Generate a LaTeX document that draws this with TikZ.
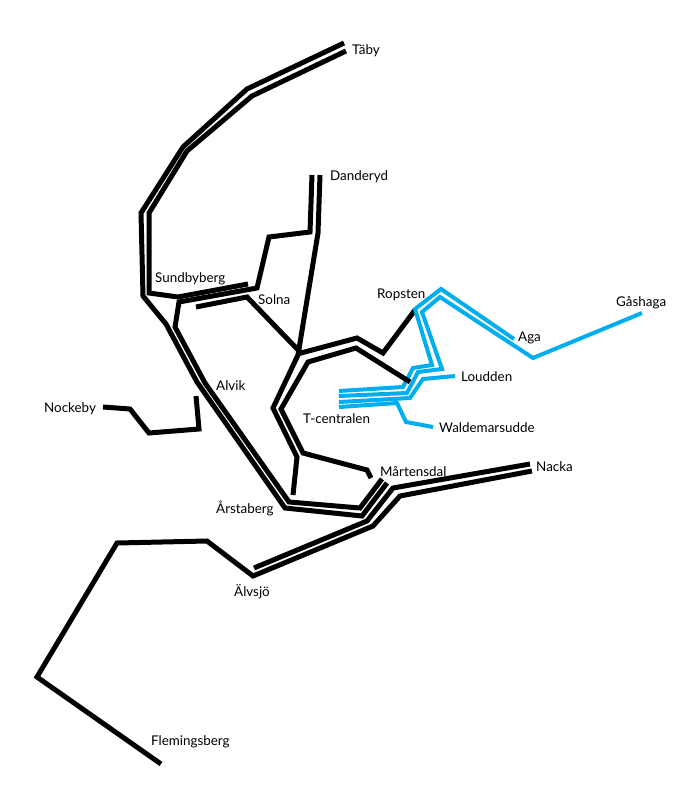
\documentclass[tikz,border=0pt]{standalone}
\usepackage{fontspec}
\setmainfont{Lato}
\definecolor{metroblue}{HTML}{00AEEF}
\tikzset{
  x=1pt,y=-1pt,
  blk/.style={draw=black,line width=5pt,line join=miter,miter limit=10},
  blu/.style={draw=metroblue,line width=4pt,line join=miter,miter limit=10},
  lab/.style={font=\fontsize{13.4pt}{15pt}\selectfont,inner sep=0pt,anchor=west,text=black}
}
\begin{document}
\begin{tikzpicture}
\useasboundingbox (0,0) rectangle (685,800);
% labels
\node[lab] (taby) at (352,50.5) {Täby};
\node[lab] (dand) at (330,177) {Danderyd};
\node[lab] (sund) at (155,279) {Sundbyberg};
\node[lab] (soln) at (258,300) {Solna};
\node[lab] (rops) at (377,295) {Ropsten};
\node[lab] (gash) at (616,303) {Gåshaga};
\node[lab] (aga) at (518,338) {Aga};
\node[lab] (loud) at (461,377) {Loudden};
\node[lab] (alvi) at (216,386) {Alvik};
\node[lab] (nock) at (44,409) {Nockeby};
\node[lab] (tcen) at (303,419) {T-centralen};
\node[lab] (wald) at (439,428) {Waldemarsudde};
\node[lab] (mart) at (380,472) {Mårtensdal};
\node[lab] (nack) at (536,467) {Nacka};
\node[lab] (arst) at (216,508) {Årstaberg};
\node[lab] (alvs) at (234,592) {Älvsjö};
\node[lab] (flem) at (151,742) {Flemingsberg};
% free ends
\coordinate (a0) at (344,43);
\coordinate (b0) at (346,51);
\coordinate (b1) at (312,175);
\coordinate (c0) at (320,175);
\coordinate (c1) at (293,495);
\coordinate (s0) at (248,284);
\coordinate (s1) at (382,479);
\coordinate (so0) at (196,307);
\coordinate (so1) at (415,310);
\coordinate (t1) at (410,382);
\coordinate (t2) at (371,478);
\coordinate (n0) at (103,407);
\coordinate (n1) at (196,396);
\coordinate (e0) at (254,568);
\coordinate (e1) at (530,464);
\coordinate (f0) at (532,471);
\coordinate (f1) at (161,764);
% black lines
\draw[blk] (a0) -- (247,89) -- (183,147) -- (141,213) -- (143,296) -- (166,324) -- (197,382) -- (285,508) -- (362,516) -- (387,483);
\draw[blk] (b0) -- (252,96) -- (187,151) -- (149,213) -- (149,293) -- (178,297) -- (s0);
\draw[blk] (b1) -- (310,232) -- (269,237) -- (257,288) -- (179,302) -- (175,327) -- (205,383) -- (289,502) -- (360,508) -- (s1);
\draw[blk] (c0) -- (318,233) -- (298,355) -- (273,408) -- (297,457) -- (c1);
\draw[blk] (so0) -- (247,297) -- (301,353) -- (357,338) -- (383,353) -- (so1);
\draw[blk] (n0) -- (130,409) -- (149,433) -- (199,429) -- (n1);
\draw[blk] (e0) -- (367,521) -- (393,488) -- (e1);
\draw[blk] (f0) -- (400,496) -- (373,526) -- (253,576) -- (207,541) -- (117,543) -- (37,677) -- (f1);
% blue lines
\draw[blu] (514,339) -- (441,289) -- (415,309) -- (432,365) -- (413,368) -- (403,387) -- (339,391);
\draw[blu] (642,313) -- (533,358) -- (440,297) -- (422,312) -- (442,369) -- (418,372) -- (407,393) -- (339,396);
\draw[blu] (455,376) -- (423,379) -- (410,398) -- (339,402);
\draw[blu] (433,427) -- (406,422) -- (397,403) -- (339,407);
% black line laid over the blue
\draw[blk] (t1) -- (356,348) -- (308,362) -- (281,409) -- (303,453) -- (367,470) -- (t2);
\end{tikzpicture}
\end{document}
